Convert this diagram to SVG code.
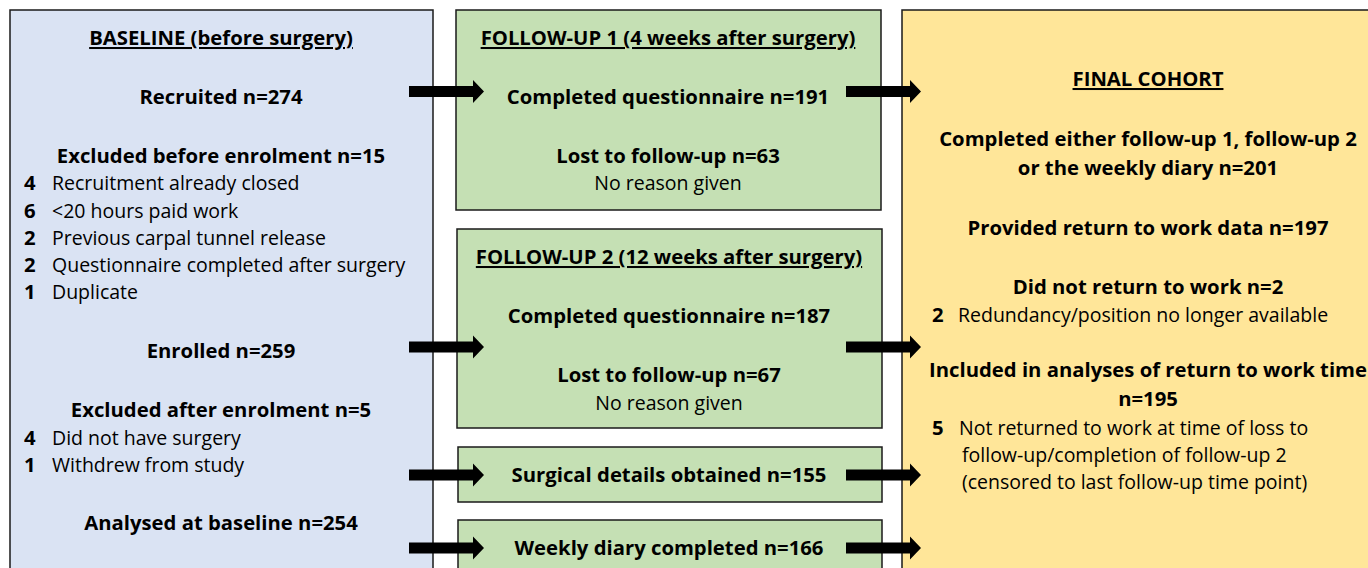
<svg xmlns="http://www.w3.org/2000/svg" width="1368" height="568" viewBox="0 0 1368 568">
<style>
text{font-family:"Open Sans","Liberation Sans",sans-serif;fill:#000;}
.b{font-weight:bold;font-size:20.3px;}
.r{font-size:19.5px;}
.c{text-anchor:middle;}
.u{text-decoration:underline;}
.box{stroke:#1a1a1a;stroke-width:1.5;}
.blue{fill:#dae3f3;}
.green{fill:#c5e0b4;}
.yellow{fill:#ffe699;}
</style>
<defs>
<path id="arr" d="M0,-5.5 H64 V-11.5 L75,0 L64,11.5 V5.5 H0 Z" fill="#000"/>
</defs>
<rect width="1368" height="568" fill="#fff"/>
<g id="baseline">
<rect class="box blue" x="10" y="10" width="423" height="570"/>
<text class="b c u" x="221" y="45">BASELINE (before surgery)</text>
<text class="b c" x="221" y="104">Recruited n=274</text>
<text class="b c" x="221" y="163">Excluded before enrolment n=15</text>
<text class="b" x="24" y="190">4</text><text class="r" x="52" y="190">Recruitment already closed</text>
<text class="b" x="24" y="218">6</text><text class="r" x="52" y="218">&lt;20 hours paid work</text>
<text class="b" x="24" y="245">2</text><text class="r" x="52" y="245">Previous carpal tunnel release</text>
<text class="b" x="24" y="272">2</text><text class="r" x="52" y="272">Questionnaire completed after surgery</text>
<text class="b" x="24" y="299">1</text><text class="r" x="52" y="299">Duplicate</text>
<text class="b c" x="221" y="358">Enrolled n=259</text>
<text class="b c" x="221" y="417">Excluded after enrolment n=5</text>
<text class="b" x="24" y="445">4</text><text class="r" x="52" y="445">Did not have surgery</text>
<text class="b" x="24" y="472">1</text><text class="r" x="52" y="472">Withdrew from study</text>
<text class="b c" x="221" y="530">Analysed at baseline n=254</text>
</g>
<g id="followup1">
<rect class="box green" x="456" y="10" width="425" height="200"/>
<text class="b c u" x="668" y="45">FOLLOW-UP 1 (4 weeks after surgery)</text>
<text class="b c" x="668" y="104">Completed questionnaire n=191</text>
<text class="b c" x="668" y="163">Lost to follow-up n=63</text>
<text class="r c" x="668" y="190">No reason given</text>
</g>
<g id="followup2">
<rect class="box green" x="457" y="229" width="425" height="199"/>
<text class="b c u" x="669" y="264">FOLLOW-UP 2 (12 weeks after surgery)</text>
<text class="b c" x="669" y="323">Completed questionnaire n=187</text>
<text class="b c" x="669" y="382">Lost to follow-up n=67</text>
<text class="r c" x="669" y="410">No reason given</text>
</g>
<g id="surgical">
<rect class="box green" x="458" y="447" width="424" height="55"/>
<text class="b c" x="669" y="482">Surgical details obtained n=155</text>
</g>
<g id="diary">
<rect class="box green" x="458" y="520" width="424" height="60"/>
<text class="b c" x="669" y="555">Weekly diary completed n=166</text>
</g>
<g id="final">
<rect class="box yellow" x="902" y="10" width="480" height="570"/>
<text class="b c u" x="1148" y="86">FINAL COHORT</text>
<text class="b c" x="1148" y="146">Completed either follow-up 1, follow-up 2</text>
<text class="b c" x="1148" y="175">or the weekly diary n=201</text>
<text class="b c" x="1148" y="235">Provided return to work data n=197</text>
<text class="b c" x="1148" y="294">Did not return to work n=2</text>
<text class="b" x="932" y="322">2</text><text class="r" x="958" y="322">Redundancy/position no longer available</text>
<text class="b c" x="1148" y="377">Included in analyses of return to work time</text>
<text class="b c" x="1148" y="406">n=195</text>
<text class="b" x="932" y="435">5</text><text class="r" x="959" y="435">Not returned to work at time of loss to</text>
<text class="r" x="962" y="462">follow-up/completion of follow-up 2</text>
<text class="r" x="962" y="489">(censored to last follow-up time point)</text>
</g>
<g id="connectors">
<use href="#arr" x="409" y="91.5"/>
<use href="#arr" x="846" y="91.5"/>
<use href="#arr" x="409" y="347"/>
<use href="#arr" x="846" y="347"/>
<use href="#arr" x="409" y="475"/>
<use href="#arr" x="846" y="475"/>
<use href="#arr" x="409" y="548"/>
<use href="#arr" x="846" y="548"/>
</g>
</svg>
